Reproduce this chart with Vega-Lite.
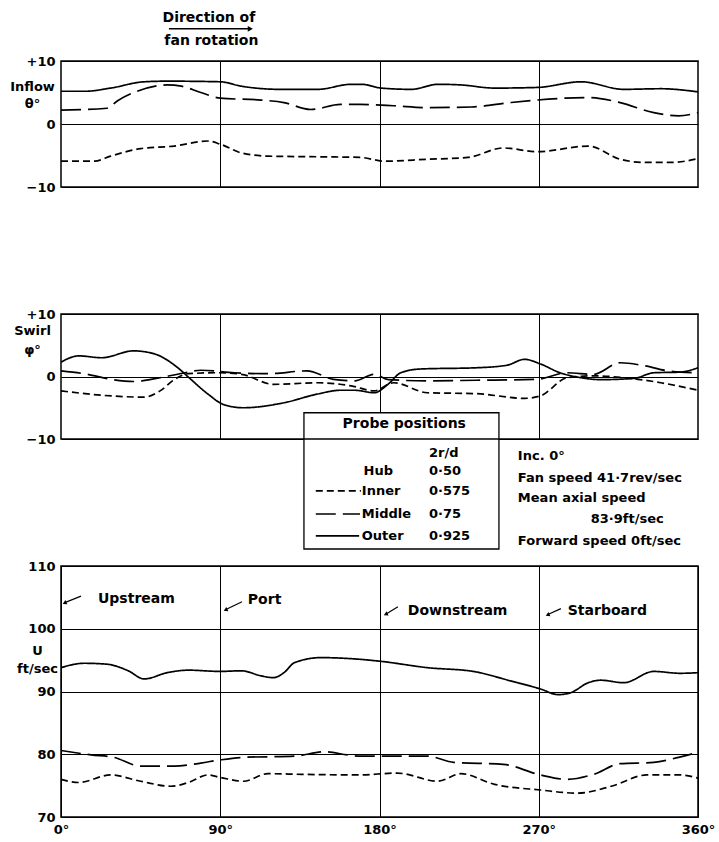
{
  "$schema": "https://vega.github.io/schema/vega-lite/v6.json",
  "background": "white",
  "padding": {"left": 8, "top": 10, "right": 0, "bottom": 0},
  "spacing": 127,
  "bounds": "flush",
  "datasets": {
    "inflow": [
      {"probe":"Outer","deg":0,"v":5.2},{"probe":"Outer","deg":14,"v":5.2},{"probe":"Outer","deg":28,"v":5.7},{"probe":"Outer","deg":47,"v":6.7},{"probe":"Outer","deg":60,"v":6.8},{"probe":"Outer","deg":90,"v":6.7},{"probe":"Outer","deg":102,"v":6.0},{"probe":"Outer","deg":124,"v":5.5},{"probe":"Outer","deg":145,"v":5.5},{"probe":"Outer","deg":164,"v":6.3},{"probe":"Outer","deg":170,"v":6.3},{"probe":"Outer","deg":181,"v":5.7},{"probe":"Outer","deg":198,"v":5.5},{"probe":"Outer","deg":213,"v":6.3},{"probe":"Outer","deg":226,"v":6.2},{"probe":"Outer","deg":245,"v":5.7},{"probe":"Outer","deg":269,"v":5.8},{"probe":"Outer","deg":294,"v":6.7},{"probe":"Outer","deg":318,"v":5.5},{"probe":"Outer","deg":339,"v":5.6},{"probe":"Outer","deg":360,"v":5.1},
      {"probe":"Middle","deg":0,"v":2.2},{"probe":"Middle","deg":26,"v":2.5},{"probe":"Middle","deg":32,"v":3.7},{"probe":"Middle","deg":43,"v":5.2},{"probe":"Middle","deg":60,"v":6.2},{"probe":"Middle","deg":68,"v":6.0},{"probe":"Middle","deg":79,"v":5.0},{"probe":"Middle","deg":90,"v":4.1},{"probe":"Middle","deg":113,"v":3.8},{"probe":"Middle","deg":126,"v":3.4},{"probe":"Middle","deg":141,"v":2.3},{"probe":"Middle","deg":158,"v":3.1},{"probe":"Middle","deg":169,"v":3.1},{"probe":"Middle","deg":188,"v":2.9},{"probe":"Middle","deg":207,"v":2.6},{"probe":"Middle","deg":232,"v":2.7},{"probe":"Middle","deg":254,"v":3.4},{"probe":"Middle","deg":269,"v":3.8},{"probe":"Middle","deg":298,"v":4.2},{"probe":"Middle","deg":316,"v":3.4},{"probe":"Middle","deg":335,"v":1.8},{"probe":"Middle","deg":349,"v":1.3},{"probe":"Middle","deg":360,"v":1.8},
      {"probe":"Inner","deg":0,"v":-5.9},{"probe":"Inner","deg":19,"v":-5.9},{"probe":"Inner","deg":28,"v":-5.1},{"probe":"Inner","deg":45,"v":-3.9},{"probe":"Inner","deg":64,"v":-3.5},{"probe":"Inner","deg":83,"v":-2.7},{"probe":"Inner","deg":90,"v":-3.2},{"probe":"Inner","deg":102,"v":-4.6},{"probe":"Inner","deg":117,"v":-5.1},{"probe":"Inner","deg":145,"v":-5.2},{"probe":"Inner","deg":169,"v":-5.3},{"probe":"Inner","deg":183,"v":-5.9},{"probe":"Inner","deg":207,"v":-5.6},{"probe":"Inner","deg":230,"v":-5.3},{"probe":"Inner","deg":250,"v":-3.8},{"probe":"Inner","deg":269,"v":-4.4},{"probe":"Inner","deg":298,"v":-3.5},{"probe":"Inner","deg":316,"v":-5.6},{"probe":"Inner","deg":330,"v":-6.1},{"probe":"Inner","deg":345,"v":-6.1},{"probe":"Inner","deg":360,"v":-5.5}
    ],
    "swirl": [
      {"probe":"Outer","deg":0,"v":2.3},{"probe":"Outer","deg":10,"v":3.3},{"probe":"Outer","deg":23,"v":3.0},{"probe":"Outer","deg":41,"v":4.1},{"probe":"Outer","deg":53,"v":3.6},{"probe":"Outer","deg":66,"v":1.4},{"probe":"Outer","deg":72,"v":-0.1},{"probe":"Outer","deg":83,"v":-2.8},{"probe":"Outer","deg":92,"v":-4.5},{"probe":"Outer","deg":103,"v":-5.0},{"probe":"Outer","deg":126,"v":-4.2},{"probe":"Outer","deg":145,"v":-2.8},{"probe":"Outer","deg":158,"v":-2.2},{"probe":"Outer","deg":166,"v":-2.2},{"probe":"Outer","deg":177,"v":-2.6},{"probe":"Outer","deg":185,"v":-1.2},{"probe":"Outer","deg":192,"v":0.6},{"probe":"Outer","deg":203,"v":1.2},{"probe":"Outer","deg":235,"v":1.4},{"probe":"Outer","deg":252,"v":1.8},{"probe":"Outer","deg":262,"v":2.75},{"probe":"Outer","deg":271,"v":2.0},{"probe":"Outer","deg":282,"v":0.6},{"probe":"Outer","deg":292,"v":-0.1},{"probe":"Outer","deg":305,"v":-0.5},{"probe":"Outer","deg":324,"v":-0.3},{"probe":"Outer","deg":335,"v":0.6},{"probe":"Outer","deg":350,"v":0.7},{"probe":"Outer","deg":360,"v":1.4},
      {"probe":"Middle","deg":0,"v":0.9},{"probe":"Middle","deg":15,"v":0.35},{"probe":"Middle","deg":28,"v":-0.45},{"probe":"Middle","deg":41,"v":-0.8},{"probe":"Middle","deg":56,"v":-0.2},{"probe":"Middle","deg":70,"v":0.6},{"probe":"Middle","deg":79,"v":1.0},{"probe":"Middle","deg":98,"v":0.6},{"probe":"Middle","deg":117,"v":0.45},{"probe":"Middle","deg":139,"v":0.9},{"probe":"Middle","deg":154,"v":-0.45},{"probe":"Middle","deg":166,"v":-0.7},{"probe":"Middle","deg":177,"v":0.35},{"probe":"Middle","deg":185,"v":-0.5},{"probe":"Middle","deg":207,"v":-0.7},{"probe":"Middle","deg":235,"v":-0.6},{"probe":"Middle","deg":269,"v":-0.45},{"probe":"Middle","deg":286,"v":0.6},{"probe":"Middle","deg":301,"v":0.35},{"probe":"Middle","deg":316,"v":2.2},{"probe":"Middle","deg":330,"v":1.7},{"probe":"Middle","deg":343,"v":0.9},{"probe":"Middle","deg":360,"v":0.6},
      {"probe":"Inner","deg":0,"v":-2.3},{"probe":"Inner","deg":23,"v":-3.0},{"probe":"Inner","deg":47,"v":-3.3},{"probe":"Inner","deg":56,"v":-2.3},{"probe":"Inner","deg":64,"v":-0.5},{"probe":"Inner","deg":72,"v":0.45},{"probe":"Inner","deg":89,"v":0.6},{"probe":"Inner","deg":102,"v":0.35},{"probe":"Inner","deg":120,"v":-1.25},{"probe":"Inner","deg":145,"v":-1.0},{"probe":"Inner","deg":164,"v":-1.5},{"probe":"Inner","deg":177,"v":-2.3},{"probe":"Inner","deg":188,"v":-1.0},{"probe":"Inner","deg":207,"v":-2.6},{"probe":"Inner","deg":235,"v":-2.75},{"probe":"Inner","deg":262,"v":-3.5},{"probe":"Inner","deg":271,"v":-3.1},{"probe":"Inner","deg":286,"v":-0.2},{"probe":"Inner","deg":301,"v":0.1},{"probe":"Inner","deg":326,"v":-0.45},{"probe":"Inner","deg":339,"v":-1.0},{"probe":"Inner","deg":360,"v":-2.2}
    ],
    "velocity": [
      {"probe":"Outer","deg":0,"v":93.8},{"probe":"Outer","deg":13,"v":94.5},{"probe":"Outer","deg":26,"v":94.35},{"probe":"Outer","deg":38,"v":93.3},{"probe":"Outer","deg":47,"v":92.0},{"probe":"Outer","deg":60,"v":93.0},{"probe":"Outer","deg":72,"v":93.4},{"probe":"Outer","deg":90,"v":93.2},{"probe":"Outer","deg":102,"v":93.3},{"probe":"Outer","deg":113,"v":92.5},{"probe":"Outer","deg":120,"v":92.2},{"probe":"Outer","deg":126,"v":93.0},{"probe":"Outer","deg":132,"v":94.6},{"probe":"Outer","deg":147,"v":95.4},{"probe":"Outer","deg":168,"v":95.15},{"probe":"Outer","deg":181,"v":94.8},{"probe":"Outer","deg":207,"v":93.8},{"probe":"Outer","deg":233,"v":93.2},{"probe":"Outer","deg":254,"v":91.7},{"probe":"Outer","deg":271,"v":90.4},{"probe":"Outer","deg":281,"v":89.5},{"probe":"Outer","deg":288,"v":89.8},{"probe":"Outer","deg":298,"v":91.4},{"probe":"Outer","deg":305,"v":91.8},{"probe":"Outer","deg":318,"v":91.4},{"probe":"Outer","deg":335,"v":93.2},{"probe":"Outer","deg":350,"v":92.9},{"probe":"Outer","deg":360,"v":93.0},
      {"probe":"Middle","deg":0,"v":80.6},{"probe":"Middle","deg":17,"v":79.9},{"probe":"Middle","deg":30,"v":79.5},{"probe":"Middle","deg":45,"v":78.1},{"probe":"Middle","deg":64,"v":78.1},{"probe":"Middle","deg":79,"v":78.6},{"probe":"Middle","deg":90,"v":79.1},{"probe":"Middle","deg":103,"v":79.5},{"probe":"Middle","deg":132,"v":79.7},{"probe":"Middle","deg":149,"v":80.4},{"probe":"Middle","deg":162,"v":79.9},{"probe":"Middle","deg":169,"v":79.7},{"probe":"Middle","deg":207,"v":79.7},{"probe":"Middle","deg":222,"v":78.7},{"probe":"Middle","deg":250,"v":78.4},{"probe":"Middle","deg":271,"v":76.7},{"probe":"Middle","deg":286,"v":76.0},{"probe":"Middle","deg":301,"v":76.8},{"probe":"Middle","deg":316,"v":78.5},{"probe":"Middle","deg":335,"v":78.7},{"probe":"Middle","deg":349,"v":79.5},{"probe":"Middle","deg":360,"v":80.3},
      {"probe":"Inner","deg":0,"v":76.0},{"probe":"Inner","deg":10,"v":75.5},{"probe":"Inner","deg":28,"v":76.7},{"probe":"Inner","deg":45,"v":75.7},{"probe":"Inner","deg":62,"v":74.9},{"probe":"Inner","deg":72,"v":75.5},{"probe":"Inner","deg":83,"v":76.7},{"probe":"Inner","deg":90,"v":76.3},{"probe":"Inner","deg":103,"v":75.7},{"probe":"Inner","deg":117,"v":76.9},{"probe":"Inner","deg":136,"v":76.8},{"probe":"Inner","deg":168,"v":76.7},{"probe":"Inner","deg":190,"v":77.0},{"probe":"Inner","deg":213,"v":75.7},{"probe":"Inner","deg":226,"v":76.9},{"probe":"Inner","deg":245,"v":75.2},{"probe":"Inner","deg":271,"v":74.3},{"probe":"Inner","deg":292,"v":73.8},{"probe":"Inner","deg":311,"v":74.9},{"probe":"Inner","deg":331,"v":76.7},{"probe":"Inner","deg":350,"v":76.7},{"probe":"Inner","deg":360,"v":76.2}
    ],
    "topText": [
      {"deg":83.6,"v":16.8,"label":"Direction of"},
      {"deg":85,"v":13.2,"label":"fan rotation"}
    ],
    "topArrow": [{"deg":61,"deg2":106,"v":15.1}],
    "topArrowHead": [{"deg":107,"v":15.1}],
    "legendBox": [{"deg":137.3,"deg2":247.5,"v":-5.8,"v2":-27.6}],
    "legendSep": [{"deg":137.3,"deg2":247.5,"v":-10}],
    "legendSamples": [
      {"probe":"Inner","deg":144,"deg2":169.5,"v":-18.3},
      {"probe":"Middle","deg":144,"deg2":169,"v":-22.0},
      {"probe":"Outer","deg":144,"deg2":168.5,"v":-25.5}
    ],
    "legendTitle": [{"deg":194,"v":-7.6,"label":"Probe positions"}],
    "legendText": [
      {"deg":208,"v":-12.2,"label":"2r/d"},
      {"deg":171,"v":-15.1,"label":"Hub"},
      {"deg":208,"v":-15.1,"label":"0·50"},
      {"deg":170,"v":-18.3,"label":"Inner"},
      {"deg":208,"v":-18.3,"label":"0·575"},
      {"deg":170,"v":-22.0,"label":"Middle"},
      {"deg":208,"v":-22.0,"label":"0·75"},
      {"deg":170,"v":-25.5,"label":"Outer"},
      {"deg":208,"v":-25.5,"label":"0·925"},
      {"deg":258.2,"v":-12.7,"label":"Inc. 0°"},
      {"deg":258.2,"v":-16.2,"label":"Fan speed 41·7rev/sec"},
      {"deg":258.2,"v":-19.4,"label":"Mean axial speed"},
      {"deg":299.4,"v":-22.8,"label":"83·9ft/sec"},
      {"deg":258.2,"v":-26.3,"label":"Forward speed 0ft/sec"}
    ],
    "posText": [
      {"deg":20.9,"v":104.8,"label":"Upstream"},
      {"deg":105.6,"v":104.6,"label":"Port"},
      {"deg":196,"v":102.9,"label":"Downstream"},
      {"deg":286.4,"v":102.9,"label":"Starboard"}
    ],
    "posArrow": [
      {"deg":11.3,"v":105.2,"deg2":2.5,"v2":104.2},
      {"deg":102.3,"v":104.3,"deg2":93.5,"v2":103.1},
      {"deg":190.4,"v":103.5,"deg2":184,"v2":102.4},
      {"deg":282.5,"v":103.2,"deg2":275.5,"v2":102.3}
    ],
    "posHead": [
      {"deg":2,"v":104.1},
      {"deg":93,"v":103.0},
      {"deg":183.5,"v":102.3},
      {"deg":275,"v":102.2}
    ]
  },
  "vconcat": [
    {
      "width": 637,
      "height": 126,
      "encoding": {
        "x": {"field":"deg","type":"quantitative","scale":{"domain":[0,360],"nice":false,"zero":false},"axis":{"values":[90,180,270],"labels":false,"grid":true,"title":null}},
        "y": {"field":"v","type":"quantitative","scale":{"domain":[-10,10],"nice":false,"zero":false},"axis":{"values":[-10,0,10],"labelExpr":"datum.value > 0 ? '+' + datum.value : datum.label","grid":true,"title":["Inflow","θ°"],"titleAngle":0,"titleX":-29,"titleY":19,"titleAlign":"center","titleBaseline":"top","titleLineHeight":17}}
      },
      "layer": [
        {"data":{"name":"inflow"},"mark":{"type":"line","interpolate":"monotone","strokeWidth":1.7,"color":"black"},
         "encoding":{"strokeDash":{"field":"probe","type":"nominal","scale":{"domain":["Inner","Middle","Outer"],"range":[[7,4],[20,7],[1,0]]},"legend":null},"detail":{"field":"probe"}}},
        {"data":{"name":"topText"},"mark":{"type":"text","fontSize":14,"align":"center","baseline":"middle"},"encoding":{"text":{"field":"label"}}},
        {"data":{"name":"topArrow"},"mark":{"type":"rule","color":"black","strokeWidth":1.5},"encoding":{"x2":{"field":"deg2"}}},
        {"data":{"name":"topArrowHead"},"mark":{"type":"point","shape":"triangle-right","filled":true,"color":"black","size":35,"opacity":1},"encoding":{}}
      ]
    },
    {
      "width": 637,
      "height": 125,
      "encoding": {
        "x": {"field":"deg","type":"quantitative","scale":{"domain":[0,360],"nice":false,"zero":false},"axis":{"values":[90,180,270],"labels":false,"grid":true,"title":null}},
        "y": {"field":"v","type":"quantitative","scale":{"domain":[-10,10],"nice":false,"zero":false},"axis":{"values":[-10,0,10],"labelExpr":"datum.value > 0 ? '+' + datum.value : datum.label","grid":true,"title":["Swirl","φ°"],"titleAngle":0,"titleX":-29,"titleY":10,"titleAlign":"center","titleBaseline":"top","titleLineHeight":19}}
      },
      "layer": [
        {"data":{"name":"swirl"},"mark":{"type":"line","interpolate":"monotone","strokeWidth":1.7,"color":"black"},
         "encoding":{"strokeDash":{"field":"probe","type":"nominal","scale":{"domain":["Inner","Middle","Outer"],"range":[[7,4],[20,7],[1,0]]},"legend":null},"detail":{"field":"probe"}}},
        {"data":{"name":"legendBox"},"mark":{"type":"rect","fill":"white","stroke":"black","strokeWidth":1.3},"encoding":{"x2":{"field":"deg2"},"y2":{"field":"v2"}}},
        {"data":{"name":"legendSep"},"mark":{"type":"rule","color":"black","strokeWidth":1.3},"encoding":{"x2":{"field":"deg2"}}},
        {"data":{"name":"legendSamples"},"mark":{"type":"rule","color":"black","strokeWidth":1.6},"encoding":{"x2":{"field":"deg2"},"strokeDash":{"field":"probe","type":"nominal","scale":{"domain":["Inner","Middle","Outer"],"range":[[7,4],[20,7],[1,0]]},"legend":null}}},
        {"data":{"name":"legendTitle"},"mark":{"type":"text","fontSize":14,"align":"center","baseline":"middle"},"encoding":{"text":{"field":"label"}}},
        {"data":{"name":"legendText"},"mark":{"type":"text","fontSize":13,"align":"left","baseline":"middle"},"encoding":{"text":{"field":"label"}}}
      ]
    },
    {
      "width": 637,
      "height": 251,
      "encoding": {
        "x": {"field":"deg","type":"quantitative","scale":{"domain":[0,360],"nice":false,"zero":false},"axis":{"values":[0,90,180,270,360],"labelExpr":"datum.value + '°'","labelFlush":false,"grid":true,"title":null,"labelPadding":6}},
        "y": {"field":"v","type":"quantitative","scale":{"domain":[70,110],"nice":false,"zero":false},"axis":{"values":[70,80,90,100,110],"grid":true,"title":["U","ft/sec"],"titleAngle":0,"titleX":-24,"titleY":78,"titleAlign":"center","titleBaseline":"top","titleLineHeight":18}}
      },
      "layer": [
        {"data":{"name":"velocity"},"mark":{"type":"line","interpolate":"monotone","strokeWidth":1.7,"color":"black"},
         "encoding":{"strokeDash":{"field":"probe","type":"nominal","scale":{"domain":["Inner","Middle","Outer"],"range":[[7,4],[20,7],[1,0]]},"legend":null},"detail":{"field":"probe"}}},
        {"data":{"name":"posText"},"mark":{"type":"text","fontSize":14,"align":"left","baseline":"middle"},"encoding":{"text":{"field":"label"}}},
        {"data":{"name":"posArrow"},"mark":{"type":"rule","color":"black","strokeWidth":1.2},"encoding":{"x2":{"field":"deg2"},"y2":{"field":"v2"}}},
        {"data":{"name":"posHead"},"mark":{"type":"point","shape":"triangle-up","angle":245,"filled":true,"color":"black","size":22,"opacity":1},"encoding":{}}
      ]
    }
  ],
  "config": {
    "view": {"stroke": "black", "strokeWidth": 1.5},
    "axis": {"labelFont": "DejaVu Sans", "labelFontWeight": "bold", "labelFontSize": 13, "labelColor": "black", "labelPadding": 6, "domain": false, "ticks": false, "gridColor": "black", "gridOpacity": 1, "gridWidth": 1, "titleFont": "DejaVu Sans", "titleFontWeight": "bold", "titleFontSize": 13, "titleColor": "black"},
    "text": {"font": "DejaVu Sans", "fontWeight": "bold", "color": "black"}
  }
}
